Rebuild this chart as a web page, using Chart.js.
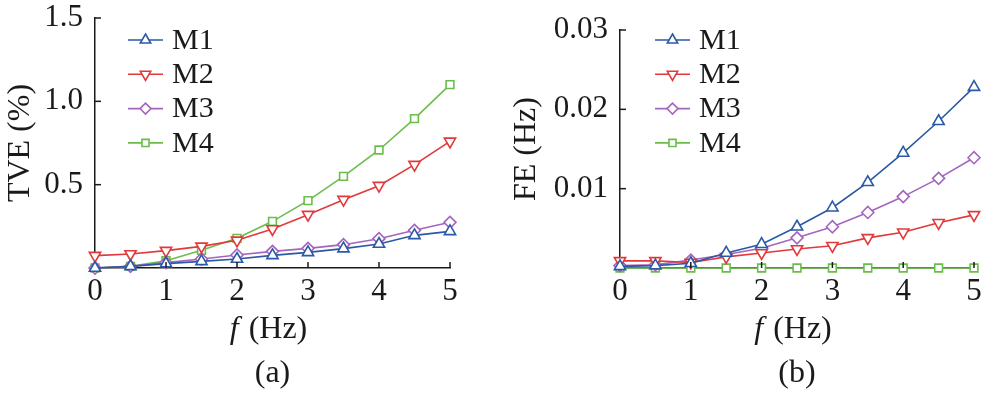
<!DOCTYPE html>
<html>
<head>
<meta charset="utf-8">
<script src="https://cdn.jsdelivr.net/npm/chart.js@4/dist/chart.umd.min.js"></script>
<style>
  html, body { margin: 0; padding: 0; background: #fff; }
  #wrap { position: relative; width: 983px; height: 395px; overflow: hidden; }
  .pane { position: absolute; top: 0; height: 395px; }
</style>
</head>
<body>
<div id="wrap">
  <div class="pane" style="left:0;width:491px"><canvas id="cA" width="491" height="395"></canvas></div>
  <div class="pane" style="left:491px;width:492px"><canvas id="cB" width="492" height="395"></canvas></div>
</div>
<script>
// ---- data ----
const freq = [0, 0.5, 1, 1.5, 2, 2.5, 3, 3.5, 4, 4.5, 5];
const seriesNames = ['M1', 'M2', 'M3', 'M4'];

const tveM1 = [0, 0.01, 0.026, 0.04, 0.054, 0.076, 0.094, 0.116, 0.144, 0.196, 0.22];
const tveM2 = [0.074, 0.084, 0.104, 0.13, 0.166, 0.234, 0.32, 0.41, 0.494, 0.62, 0.76];
const tveM3 = [0, 0.01, 0.032, 0.054, 0.078, 0.1, 0.118, 0.14, 0.176, 0.226, 0.274];
const tveM4 = [0, 0.01, 0.044, 0.106, 0.178, 0.28, 0.404, 0.55, 0.708, 0.896, 1.1];

const feM1 = [0.0002, 0.0003, 0.0006, 0.0019, 0.0030, 0.0052, 0.0076, 0.0108, 0.0145, 0.0185, 0.0228];
const feM2 = [0.0009, 0.0009, 0.0007, 0.0014, 0.0019, 0.0024, 0.0028, 0.0038, 0.0045, 0.0057, 0.0067];
const feM3 = [0.0003, 0.0004, 0.0010, 0.0017, 0.0025, 0.0038, 0.0052, 0.0070, 0.0090, 0.0113, 0.0139];
const feM4 = [0, 0, 0, 0, 0, 0, 0, 0, 0, 0, 0];

const xTicks = [0, 1, 2, 3, 4, 5];
const tveTicks = [0.5, 1.0, 1.5];
const feTicks = [0.01, 0.02, 0.03];

// ---- styles ----
const FONT = '"Liberation Serif", "Times New Roman", serif';
const FS_TICK = 31;
const FS_TITLE = 32;
const FS_LEG = 30;
const colors = ['#2b59a6', '#e2383a', '#a565bd', '#6bbd4b'];
const pStyles = ['triangle', 'triangle', 'rectRot', 'rect'];
const pRot = [0, 180, 0, 0];
const pRad = [6.5, 6.5, 6, 5.5];

function makeDatasets(arrs) {
  return arrs.map((arr, i) => ({
    label: seriesNames[i],
    data: freq.map((f, k) => ({ x: f, y: arr[k] })),
    borderColor: colors[i],
    backgroundColor: '#ffffff',
    borderWidth: 1.6,
    pointStyle: pStyles[i],
    pointRotation: pRot[i],
    pointRadius: pRad[i],
    pointBorderWidth: 1.6,
    pointBackgroundColor: '#ffffff',
    pointBorderColor: colors[i],
    tension: 0,
    clip: false
  }));
}

// inside tick marks
const innerTicks = {
  id: 'innerTicks',
  afterDraw(chart) {
    const ctx = chart.ctx, xs = chart.scales.x, ys = chart.scales.y;
    const ca = chart.chartArea;
    ctx.save();
    ctx.strokeStyle = '#1a1a1a';
    ctx.lineWidth = 1.5;
    xs.ticks.forEach(t => {
      if (t.value === 0) return;
      const px = xs.getPixelForValue(t.value);
      ctx.beginPath(); ctx.moveTo(px, ca.bottom); ctx.lineTo(px, ca.bottom - 6); ctx.stroke();
    });
    ys.ticks.forEach(t => {
      if (t.value === 0) return;
      const py = ys.getPixelForValue(t.value);
      ctx.beginPath(); ctx.moveTo(ca.left, py); ctx.lineTo(ca.left + 6, py); ctx.stroke();
    });
    ctx.restore();
  }
};

// legend drawn inside the plot
const lineLegend = {
  id: 'lineLegend',
  afterDraw(chart, args, opts) {
    const ctx = chart.ctx, ca = chart.chartArea;
    ctx.save();
    chart.data.datasets.forEach((ds, i) => {
      const y = opts.top + i * opts.gap;
      const x0 = ca.left + opts.offset, x1 = x0 + 35;
      ctx.strokeStyle = ds.borderColor;
      ctx.lineWidth = ds.borderWidth;
      ctx.beginPath(); ctx.moveTo(x0, y); ctx.lineTo(x1, y); ctx.stroke();
      ctx.fillStyle = '#ffffff';
      ctx.lineWidth = ds.pointBorderWidth;
      Chart.helpers.drawPoint(ctx, {
        pointStyle: ds.pointStyle, rotation: ds.pointRotation,
        radius: ds.pointRadius - 0.5, borderWidth: ds.pointBorderWidth
      }, (x0 + x1) / 2, y);
      ctx.fillStyle = '#1a1a1a';
      ctx.font = FS_LEG + 'px ' + FONT;
      ctx.textBaseline = 'middle';
      ctx.textAlign = 'left';
      ctx.fillText(ds.label, x1 + 9, y + 1);
    });
    ctx.restore();
  }
};

// x-axis title with italic f, plus panel caption
const bottomTexts = {
  id: 'bottomTexts',
  afterDraw(chart, args, opts) {
    const ctx = chart.ctx, ca = chart.chartArea;
    const cx = (ca.left + ca.right) / 2 + opts.shift;
    ctx.save();
    ctx.fillStyle = '#1a1a1a';
    ctx.textBaseline = 'middle';
    ctx.textAlign = 'left';
    const fItal = 'italic ' + FS_TITLE + 'px ' + FONT;
    const fNorm = FS_TITLE + 'px ' + FONT;
    ctx.font = fItal; const w1 = ctx.measureText('f').width;
    ctx.font = fNorm; const w2 = ctx.measureText(' (Hz)').width;
    const sx = cx - (w1 + w2 + 2) / 2;
    ctx.font = fItal; ctx.fillText('f', sx, ca.bottom + 62);
    ctx.font = fNorm; ctx.fillText(' (Hz)', sx + w1 + 2, ca.bottom + 62);
    ctx.textAlign = 'center';
    ctx.fillText(opts.caption, (ca.left + ca.right) / 2, ca.bottom + 106);
    ctx.restore();
  }
};

function makeChart(id, arrs, yMax, yTicks, decimals, yTitle, pad, yWidth, titlePad, caption, legendOffset, shift) {
  return new Chart(document.getElementById(id), {
    type: 'line',
    data: { datasets: makeDatasets(arrs) },
    plugins: [innerTicks, lineLegend, bottomTexts],
    options: {
      responsive: false,
      animation: false,
      devicePixelRatio: 1,
      layout: { padding: pad },
      plugins: {
        legend: { display: false },
        tooltip: { enabled: false },
        lineLegend: { top: 40, gap: 34.3, offset: legendOffset },
        bottomTexts: { caption: caption, shift: shift }
      },
      scales: {
        x: {
          type: 'linear', min: 0, max: 5,
          afterBuildTicks: s => { s.ticks = xTicks.map(v => ({ value: v })); },
          ticks: { font: { family: FONT, size: FS_TICK }, color: '#1a1a1a', padding: 5, maxRotation: 0,
                   callback: v => String(v) },
          grid: { display: false, drawTicks: false },
          border: { display: true, color: '#1a1a1a', width: 1.5 },
          afterFit: s => { s.height = 127; s.paddingLeft = 0; s.paddingRight = 0; s.paddingTop = 0; s.paddingBottom = 0; }
        },
        y: {
          type: 'linear', min: 0, max: yMax,
          afterBuildTicks: s => { s.ticks = [0].concat(yTicks).map(v => ({ value: v })); },
          ticks: { font: { family: FONT, size: FS_TICK }, color: '#1a1a1a', padding: 12,
                   callback: v => (v === 0 ? '' : Number(v).toFixed(decimals)) },
          grid: { display: false, drawTicks: false },
          border: { display: true, color: '#1a1a1a', width: 1.5 },
          title: { display: true, text: yTitle, font: { family: FONT, size: FS_TITLE }, color: '#1a1a1a',
                   padding: { top: titlePad, bottom: 0 } },
          afterFit: s => { s.width = yWidth; s.paddingTop = 0; s.paddingBottom = 0; s.paddingLeft = 0; s.paddingRight = 0; }
        }
      }
    }
  });
}

makeChart('cA', [tveM1, tveM2, tveM3, tveM4], 1.5, tveTicks, 1, 'TVE (%)',
  { top: 18, right: 41, left: 0, bottom: 0 }, 95, 1, '(a)', 33, -4);
makeChart('cB', [feM1, feM2, feM3, feM4], 0.03, feTicks, 2, 'FE (Hz)',
  { top: 30, right: 9, left: 0, bottom: 0 }, 129, 16, '(b)', 35, -4);
</script>
</body>
</html>
